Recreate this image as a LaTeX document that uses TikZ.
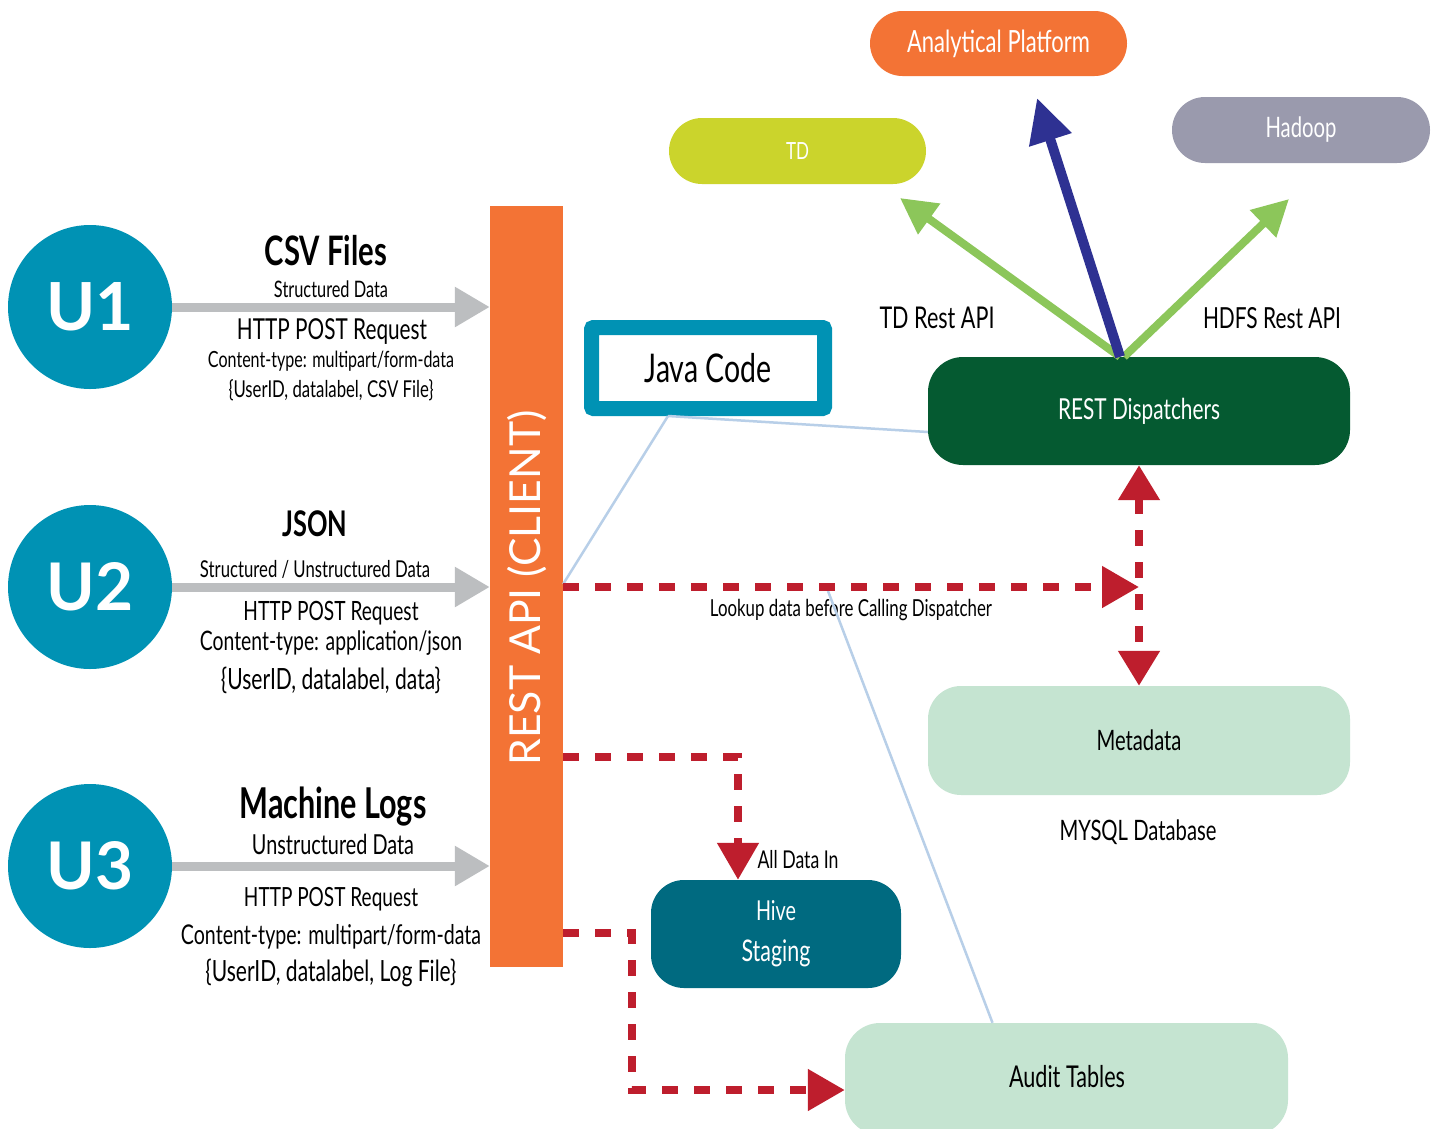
\documentclass[tikz,border=0pt]{standalone}
\usepackage{fontspec}
\setmainfont{Lato}[FakeStretch=0.72]
\newfontfamily\widefont{Lato}
\usetikzlibrary{arrows.meta,calc}
\definecolor{cteal}{HTML}{0092B4}
\definecolor{corange}{HTML}{F37335}
\definecolor{cdisp}{HTML}{055A31}
\definecolor{ctd}{HTML}{CBD42C}
\definecolor{chadoop}{HTML}{9A9AAD}
\definecolor{cmint}{HTML}{C5E4D1}
\definecolor{chive}{HTML}{006A80}
\definecolor{cred}{HTML}{BE1E2D}
\definecolor{cblue}{HTML}{2E3192}
\definecolor{cgreen}{HTML}{8CC65A}
\definecolor{cgray}{HTML}{BCBEC0}
\definecolor{clblue}{HTML}{B8CFE8}
\newcommand\fitw[2]{\resizebox{#1pt}{!}{#2}}
\newcommand\fith[2]{\resizebox{!}{#1pt}{#2}}
\begin{document}
\begin{tikzpicture}[x=1pt,y=-1pt,
  ucirc/.style={circle, fill=cteal, minimum size=164pt, inner sep=0pt, text=white, font=\widefont\bfseries},
  pill/.style={rectangle, inner sep=0pt, text=white},
  lbl/.style={inner sep=0pt, text=black},
  grayarr/.style={draw=cgray, line width=9pt, -{Triangle[width=38pt,length=35pt]}},
  redd/.style={draw=cred, line width=8pt, dash pattern=on 16pt off 16pt},
  redarr/.style={redd, -{Triangle[width=40pt,length=37pt]}},
  redboth/.style={redd, {Triangle[width=40pt,length=35pt]}-{Triangle[width=40pt,length=35pt]}},
  bluearr/.style={draw=cblue, line width=10pt, -{Triangle[width=42pt,length=44pt]}},
  greenarr/.style={draw=cgreen, line width=8pt, -{Triangle[width=36pt,length=36pt]}},
  lblue/.style={draw=clblue, line width=2.5pt}
]
\path[use as bounding box, fill=white] (0,0) rectangle (1438,1128);

% users
\node[ucirc] (u1) at (90,307) {\fith{48}{U1}};
\node[ucirc] (u2) at (90,587) {\fith{48}{U2}};
\node[ucirc] (u3) at (90,866) {\fith{48}{U3}};

% REST API bar
\node[rectangle, fill=corange, minimum width=73pt, minimum height=761pt, inner sep=0pt] (bar) at (526.5,586.5) {};
\node[rotate=90, text=white, inner sep=0pt] (bartxt) at (527,588) {\widefont\fitw{355}{REST API (CLIENT)}};

% left labels
\node[lbl] (csv) at (326,251) {\fitw{122}{\bfseries CSV Files}};
\node[lbl] (sd1) at (331,289) {\fitw{114}{Structured Data}};
\node[lbl] (http1) at (332,332) {\fitw{190}{HTTP POST Request}};
\node[lbl] (ct1) at (331,361) {\fitw{246}{Content-type: multipart/form-data}};
\node[lbl] (uid1) at (331,390) {\fitw{205}{\{UserID, datalabel, CSV File\}}};

\node[lbl] (json) at (315,524) {\fitw{65}{\bfseries JSON}};
\node[lbl] (sd2) at (315,569) {\fitw{230}{Structured / Unstructured Data}};
\node[lbl] (http2) at (331,613) {\fitw{175}{HTTP POST Request}};
\node[lbl] (ct2) at (331,643) {\fitw{262}{Content-type: application/json}};
\node[lbl] (uid2) at (331,680) {\fitw{220}{\{UserID, datalabel, data\}}};

\node[lbl] (ml) at (333,807) {\fitw{187}{\bfseries Machine Logs}};
\node[lbl] (sd3) at (333,844) {\fitw{162}{Unstructured Data}};
\node[lbl] (http3) at (331,899) {\fitw{174}{HTTP POST Request}};
\node[lbl] (ct3) at (331,937) {\fitw{300}{Content-type: multipart/form-data}};
\node[lbl] (uid3) at (331,973) {\fitw{251}{\{UserID, datalabel, Log File\}}};

% boxes
\node[rectangle, draw=cteal, line width=15pt, fill=white, rounded corners=2pt,
      minimum width=233pt, minimum height=81pt, inner sep=0pt] (java) at (708,368) {\fitw{127}{Java Code}};
\node[pill, fill=cdisp, rounded corners=35pt, minimum width=422pt, minimum height=108pt] (disp) at (1139,411) {\fitw{162}{REST Dispatchers}};
\node[pill, fill=corange, rounded corners=32.5pt, minimum width=257pt, minimum height=65pt] (ap) at (998.5,43.5) {\fitw{183}{Analytical Platform}};
\node[pill, fill=ctd, rounded corners=33pt, minimum width=257pt, minimum height=66pt] (td) at (797.5,151) {\fitw{23}{TD}};
\node[pill, fill=chadoop, rounded corners=33pt, minimum width=258pt, minimum height=66pt] (hadoop) at (1301,130) {\fitw{71}{Hadoop}};
\node[pill, fill=cmint, text=black, rounded corners=33pt, minimum width=422pt, minimum height=109pt] (meta) at (1139,740.5) {\fitw{85}{Metadata}};
\node[pill, fill=chive, rounded corners=33pt, minimum width=250pt, minimum height=108pt, align=center,
      font=\fontsize{30}{41}\selectfont] (hive) at (776,934) {\fitw{40}{Hive}\\\fitw{69}{Staging}};
\node[pill, fill=cmint, text=black, rounded corners=35pt, minimum width=443pt, minimum height=112pt] (audit) at (1066.5,1079) {};
\node[lbl] (audittxt) at (1067,1077) {\fitw{116}{Audit Tables}};

% other labels
\node[lbl] (tdapi) at (937,318) {\fitw{115}{TD Rest API}};
\node[lbl] (hdfsapi) at (1272,318) {\fitw{138}{HDFS Rest API}};
\node[lbl] (lookup) at (851,610) {\fitw{282}{Lookup data before Calling Dispatcher}};
\node[lbl] (mysql) at (1138,832) {\fitw{157}{MYSQL Database}};
\node[lbl] (alldata) at (798,860) {\fitw{81}{All Data In}};

% coordinates
\coordinate (jb) at ([xshift=-40pt]java.south);
\coordinate (dn) at ([xshift=-19pt]disp.north);
\coordinate (bt) at (1037,98);
\coordinate (tdt) at (900,198);
\coordinate (hdt) at (1289,199);
\coordinate (lk) at (disp.south |- 0,587);
\coordinate (lbs) at (828,591);

% light blue connectors
\draw[lblue] (jb) -- ([yshift=-21pt]disp.west);
\draw[lblue] (jb) -- (bar.east |- 0,584);
\draw[lblue] (lbs) -- ([xshift=-74pt]audit.north);

% gray input arrows
\draw[grayarr] (u1.east) -- (u1.east -| bar.west);
\draw[grayarr] (u2.east) -- (u2.east -| bar.west);
\draw[grayarr] (u3.east) -- (u3.east -| bar.west);

% dispatcher outputs
\draw[greenarr] (dn) -- (tdt);
\draw[greenarr] ([xshift=4pt]dn) -- (hdt);
\draw[bluearr] (dn) -- (bt);

% red dashed flows
\draw[redarr] (bar.east |- lk) -- (lk);
\draw[redboth] (disp.south) -- (meta.north);
\draw[redarr] (bar.east |- 0,757) -- (738,757) -- ([xshift=-38pt]hive.north);
\draw[redarr] (bar.east |- 0,933) -- (632,933) -- (632,1090) -- (audit.west |- 0,1090);
\end{tikzpicture}
\end{document}
